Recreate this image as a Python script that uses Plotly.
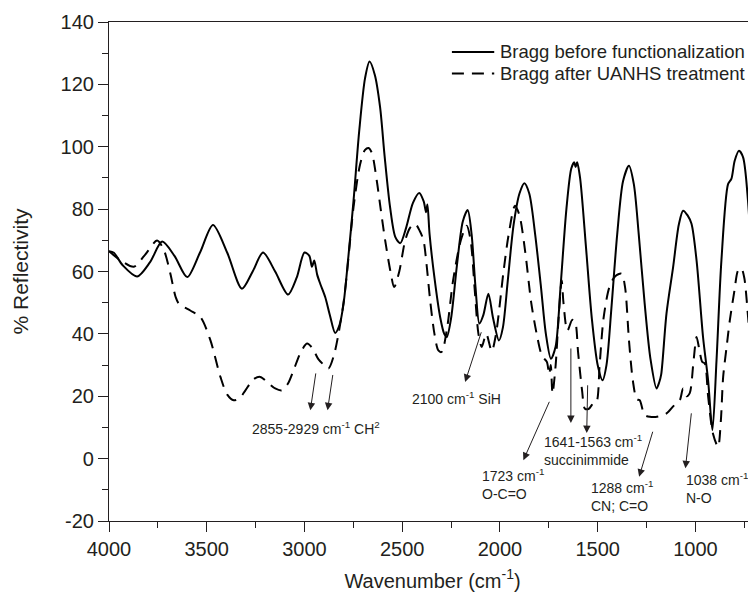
import plotly.graph_objects as go

# ---------------- data ----------------
wn_before = [4000, 3975, 3930, 3856, 3790, 3728, 3665, 3600, 3535, 3468, 3395, 3320, 3265, 3212,
             3150, 3084, 3040, 3000, 2975, 2962, 2950, 2935, 2919, 2894, 2870, 2843, 2820, 2800,
             2775, 2749, 2720, 2690, 2667, 2640, 2613, 2590, 2562, 2535, 2510, 2480, 2445, 2413,
             2390, 2378, 2371, 2360, 2335, 2306, 2285, 2272, 2250, 2220, 2190, 2165, 2145, 2125,
             2105, 2085, 2059, 2035, 2005, 1985, 1960, 1930, 1900, 1875, 1850, 1820, 1790, 1765,
             1739, 1715, 1690, 1660, 1635, 1620, 1613, 1605, 1590, 1560, 1530, 1500, 1475, 1455,
             1430, 1400, 1370, 1340, 1315, 1290, 1260, 1230, 1199, 1185, 1175, 1148, 1114, 1085,
             1063, 1040, 1020, 994, 961, 935, 913, 892, 867, 833, 816, 799, 777, 756, 731, 705, 690]
refl_before = [66.5, 66, 62, 58.4, 63, 69.6, 65, 58.2, 66, 74.9, 66, 54.5, 60, 66.1,
               60, 52.6, 58, 66.1, 65, 61.5, 63.5, 59, 56, 51.8, 46, 40.3, 43, 49.7,
               65, 82.7, 105, 122, 127.3, 123, 112.6, 97, 80.6, 71, 69.1, 74, 82, 85.2,
               82.5, 79, 81.5, 72, 58, 45.4, 40, 39, 45, 62, 76, 79.7, 72, 55,
               43.3, 46, 52.9, 45, 37.9, 42, 57, 75, 85, 88.3, 85, 72, 55, 40,
               32, 36, 55, 80, 93, 95, 93.5, 95, 90, 68, 45, 30, 25.1, 30,
               48, 72, 89, 93.9, 88, 72, 50, 32, 22.5, 24.5, 27, 46.5, 61.4, 75,
               79.5, 78, 75.3, 63.5, 39, 25.1, 9.1, 31.5, 63.5, 88, 89.7, 95.5, 98.7, 96.6, 82.7, 52.9, 28]

wn_after = [4000, 3950, 3873, 3820, 3754, 3720, 3686, 3660, 3643, 3584, 3532, 3481, 3430, 3395,
            3362, 3330, 3302, 3260, 3226, 3190, 3150, 3115, 3085, 3056, 3020, 2987, 2960, 2930,
            2900, 2877, 2850, 2826, 2800, 2783, 2749, 2715, 2690, 2672, 2655, 2630, 2610, 2587,
            2560, 2541, 2515, 2485, 2460, 2434, 2410, 2391, 2375, 2357, 2335, 2315, 2298, 2270,
            2240, 2200, 2170, 2150, 2130, 2110, 2093, 2070, 2042, 2020, 1983, 1955, 1923, 1900,
            1870, 1840, 1812, 1785, 1760, 1748, 1740, 1731, 1715, 1700, 1684, 1675, 1655, 1630,
            1616, 1600, 1580, 1565, 1545, 1520, 1506, 1490, 1470, 1440, 1410, 1378, 1360, 1340,
            1320, 1300, 1285, 1260, 1233, 1190, 1148, 1110, 1080, 1063, 1045, 1029, 1010, 994,
            980, 965, 952, 935, 910, 884, 870, 858, 840, 824, 800, 782, 765, 750, 730, 710, 700, 688]
refl_after = [66.5, 64, 61.5, 65, 69.9, 67, 59.3, 52, 49.7, 47.5, 45.4, 37.9, 26.2, 20.5,
              18.7, 19.5, 21.9, 25.5, 26.2, 24.5, 22.5, 21.9, 24, 28.3, 34, 36.9, 35.5, 32,
              30, 28.9, 33, 40, 50, 59.3, 80.6, 94.5, 99, 99.6, 98, 89.1, 80, 69.9,
              60, 55, 60, 69.9, 74, 75.3, 73, 70, 62, 50.7, 40, 34.7, 34.2, 42,
              57, 70, 74.7, 70, 55, 40, 35.8, 40, 34.5, 40, 59.3, 72, 81.1, 78,
              66, 50, 40, 33, 31, 27, 30, 20.9, 30, 45, 57.1, 50, 41, 44.5,
              44, 34, 22, 16, 16, 18, 18.2, 30, 45, 55, 58.5, 59.3, 55, 38,
              25, 19, 18.7, 14, 13.4, 13.5, 14.5, 17, 18.7, 22.5, 20, 21, 31, 39,
              35, 31, 30.5, 20, 8, 3.8, 12, 26.2, 36, 44.3, 54, 60.3, 61, 58, 45, 30, 25, 15]

series_names = ["Bragg before functionalization", "Bragg after UANHS treatment"]
series_dash = ["solid", "12px,8px"]

y_tickvals = [-20, 0, 20, 40, 60, 80, 100, 120, 140]
y_ticktext = ["-20", "0", "20", "40", "60", "80", "100", "120", "140"]
x_tickvals = [4000, 3500, 3000, 2500, 2000, 1500, 1000]
x_ticktext = ["4000", "3500", "3000", "2500", "2000", "1500", "1000"]

# annotation labels: text, left x, centre y
label_texts = ["2855-2929 cm<sup>-1</sup> CH<sup>2</sup>",
               "2100 cm<sup>-1</sup> SiH",
               "1723 cm<sup>-1</sup><br>O-C=O",
               "1641-1563 cm<sup>-1</sup><br>succinimmide",
               "1288 cm<sup>-1</sup><br>CN; C=O",
               "1038 cm<sup>-1</sup><br>N-O"]
label_x = [3277, 2459, 2100, 1786, 1545, 1059]
label_y = [9.8, 19.4, -8.2, 2.9, -12, -9.3]

# arrows: tail (x, y) -> head (x, y)
arrow_tail_x = [2941, 2854, 2093, 1744, 1637, 1551, 1216, 1020]
arrow_tail_y = [27.8, 27.3, 41, 18.7, 35.8, 24, 9.1, 15]
arrow_head_x = [2970, 2882, 2178, 1880, 1637, 1556, 1288, 1051]
arrow_head_y = [15.5, 15.5, 24.6, -0.5, 11.4, 8.2, -5.8, -3.1]

# ---------------- figure ----------------
FONT = "Liberation Sans, Arial, Helvetica, sans-serif"
INK = "#231f20"

fig = go.Figure()
fig.add_trace(go.Scatter(x=wn_before, y=refl_before, mode="lines", name=series_names[0],
                         line=dict(color="black", width=2, dash=series_dash[0],
                                   shape="spline", smoothing=0.8)))
fig.add_trace(go.Scatter(x=wn_after, y=refl_after, mode="lines", name=series_names[1],
                         line=dict(color="black", width=2, dash=series_dash[1],
                                   shape="spline", smoothing=0.8)))

for t, x, y in zip(label_texts, label_x, label_y):
    fig.add_annotation(x=x, y=y, xref="x", yref="y", text=t, showarrow=False,
                       xanchor="left", yanchor="middle", align="left",
                       font=dict(family=FONT, size=14, color=INK))

for tx, ty, hx, hy in zip(arrow_tail_x, arrow_tail_y, arrow_head_x, arrow_head_y):
    fig.add_annotation(x=hx, y=hy, ax=tx, ay=ty, xref="x", yref="y", axref="x", ayref="y",
                       text="", showarrow=True, arrowhead=2, arrowsize=1.5, arrowwidth=1,
                       arrowcolor=INK, standoff=0, startstandoff=0)

# hand-drawn legend (keeps the compact row spacing of the original)
legend_rows_y = [0.940, 0.8967]
for name, dash, yy in zip(series_names, series_dash, legend_rows_y):
    fig.add_shape(type="line", xref="paper", yref="paper", x0=0.530, x1=0.5954, y0=yy, y1=yy,
                  line=dict(color="black", width=2, dash=dash))
    fig.add_annotation(xref="paper", yref="paper", x=0.602, y=yy, text=name, showarrow=False,
                       xanchor="left", yanchor="middle",
                       font=dict(family=FONT, size=18.5, color=INK))

# page body has an 8px margin: figure is shrunk so the plot lands where the original sits
fig.update_layout(
    width=748, height=586,
    margin=dict(l=100.5, r=0, t=13.7, b=73),
    paper_bgcolor="white", plot_bgcolor="white",
    font=dict(family=FONT, size=20, color=INK),
    showlegend=False,
)
fig.update_xaxes(range=[4000, 690], autorange=False,
                 tickvals=x_tickvals, ticktext=x_ticktext,
                 showline=True, linecolor=INK, linewidth=1.2, mirror=True,
                 ticks="outside", ticklen=10, tickwidth=1.2, tickcolor=INK,
                 minor=dict(dtick=250, tick0=4000, ticks="outside", ticklen=6, tickwidth=1.2, tickcolor=INK),
                 showgrid=False, zeroline=False,
                 tickfont=dict(family=FONT, size=20, color=INK),
                 title=dict(text="Wavenumber (cm<sup>-1</sup>)", standoff=14,
                            font=dict(family=FONT, size=20, color=INK)))
fig.update_yaxes(range=[-20, 140], autorange=False,
                 tickvals=y_tickvals, ticktext=y_ticktext,
                 showline=True, linecolor=INK, linewidth=1.2,
                 ticks="outside", ticklen=10, tickwidth=1.2, tickcolor=INK,
                 minor=dict(dtick=10, tick0=0, ticks="outside", ticklen=6, tickwidth=1.2, tickcolor=INK),
                 showgrid=False, zeroline=False,
                 tickfont=dict(family=FONT, size=20, color=INK),
                 title=dict(text="% Reflectivity", standoff=26,
                            font=dict(family=FONT, size=21, color=INK)))

fig.write_html("out.html")
